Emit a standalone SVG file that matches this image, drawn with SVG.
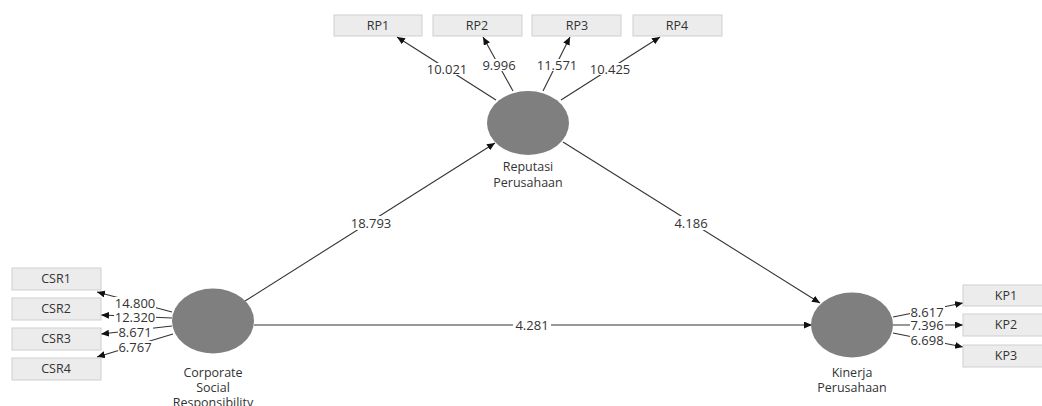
<svg xmlns="http://www.w3.org/2000/svg" width="1042" height="406" viewBox="0 0 1042 406">
<style>
.box{fill:#ececec;stroke:#cfcfcf;stroke-width:1}
.bt{font-family:"Open Sans","Noto Sans",sans-serif;font-size:12.5px;fill:#333;text-anchor:middle}
.lv{fill:#7f7f7f}
.lt{font-family:"Open Sans","Noto Sans",sans-serif;font-size:12.5px;fill:#333;text-anchor:middle}
.ln{stroke:#333;stroke-width:1.1;fill:none;marker-end:url(#ah)}
.bg{fill:#fff}
.lab{font-family:"Open Sans","Noto Sans",sans-serif;font-size:13px;fill:#333;text-anchor:middle;dominant-baseline:central}
</style>
<defs>
<marker id="ah" markerUnits="userSpaceOnUse" markerWidth="9" markerHeight="8" refX="8" refY="3.5" orient="auto">
<path d="M0,0 L8,3.5 L0,7 z" fill="#111"/>
</marker>
</defs>
<rect width="1042" height="406" fill="#fff"/>
<g id="connectors">
<line class="ln" x1="496" y1="100" x2="397" y2="37"/>
<line class="ln" x1="513" y1="91" x2="483" y2="37"/>
<line class="ln" x1="543" y1="91" x2="570" y2="37"/>
<line class="ln" x1="561" y1="100" x2="660" y2="37"/>
<line class="ln" x1="172" y1="312" x2="97" y2="292"/>
<line class="ln" x1="172" y1="318" x2="101" y2="315"/>
<line class="ln" x1="172" y1="326" x2="101" y2="334"/>
<line class="ln" x1="173" y1="334" x2="97" y2="357"/>
<line class="ln" x1="893" y1="317" x2="963" y2="303"/>
<line class="ln" x1="893" y1="325" x2="963" y2="325"/>
<line class="ln" x1="893" y1="333" x2="963" y2="347"/>
<line class="ln" x1="245" y1="301" x2="495" y2="143"/>
<line class="ln" x1="563" y1="142" x2="820" y2="303"/>
<line class="ln" x1="254" y1="325" x2="812" y2="325"/>
<rect class="bg" x="426" y="63" width="42" height="12"/>
<rect class="bg" x="482" y="59" width="35" height="12"/>
<rect class="bg" x="536" y="59" width="42" height="12"/>
<rect class="bg" x="589" y="63" width="42" height="12"/>
<rect class="bg" x="114" y="297" width="42" height="12"/>
<rect class="bg" x="114" y="311" width="42" height="12"/>
<rect class="bg" x="118" y="326" width="35" height="12"/>
<rect class="bg" x="118" y="341" width="35" height="12"/>
<rect class="bg" x="910" y="306" width="35" height="12"/>
<rect class="bg" x="910" y="319" width="35" height="12"/>
<rect class="bg" x="910" y="334" width="35" height="12"/>
<rect class="bg" x="348" y="216" width="46" height="14"/>
<rect class="bg" x="672" y="216" width="38" height="14"/>
<rect class="bg" x="513" y="318" width="38" height="14"/>
<text class="lab" x="447" y="69">10.021</text>
<text class="lab" x="499" y="65">9.996</text>
<text class="lab" x="557" y="65">11.571</text>
<text class="lab" x="610" y="69">10.425</text>
<text class="lab" x="135" y="303">14.800</text>
<text class="lab" x="135" y="317">12.320</text>
<text class="lab" x="135" y="332">8.671</text>
<text class="lab" x="135" y="347">6.767</text>
<text class="lab" x="927" y="312">8.617</text>
<text class="lab" x="927" y="325">7.396</text>
<text class="lab" x="927" y="340">6.698</text>
<text class="lab" x="371" y="223">18.793</text>
<text class="lab" x="691" y="223">4.186</text>
<text class="lab" x="532" y="325">4.281</text>
</g>
<g id="RP1"><rect class="box" x="334" y="15" width="88" height="21"/><text class="bt" x="378" y="30">RP1</text></g>
<g id="RP2"><rect class="box" x="433" y="15" width="89" height="21"/><text class="bt" x="477" y="30">RP2</text></g>
<g id="RP3"><rect class="box" x="532" y="15" width="89" height="21"/><text class="bt" x="577" y="30">RP3</text></g>
<g id="RP4"><rect class="box" x="633" y="15" width="89" height="21"/><text class="bt" x="677" y="30">RP4</text></g>
<g id="CSR1"><rect class="box" x="12" y="268" width="89" height="22"/><text class="bt" x="56" y="283">CSR1</text></g>
<g id="CSR2"><rect class="box" x="12" y="298" width="89" height="22"/><text class="bt" x="56" y="313">CSR2</text></g>
<g id="CSR3"><rect class="box" x="12" y="328" width="89" height="22"/><text class="bt" x="56" y="343">CSR3</text></g>
<g id="CSR4"><rect class="box" x="12" y="358" width="89" height="22"/><text class="bt" x="56" y="373">CSR4</text></g>
<g id="KP1"><rect class="box" x="963" y="285" width="80" height="21"/><text class="bt" x="1006" y="300">KP1</text></g>
<g id="KP2"><rect class="box" x="963" y="314" width="80" height="22"/><text class="bt" x="1006" y="329">KP2</text></g>
<g id="KP3"><rect class="box" x="963" y="345" width="80" height="22"/><text class="bt" x="1006" y="360">KP3</text></g>
<g id="Reputasi"><ellipse class="lv" cx="528" cy="123" rx="41" ry="32"/><text class="lt" x="528" y="171">Reputasi</text><text class="lt" x="528" y="187">Perusahaan</text></g>
<g id="CSR"><ellipse class="lv" cx="213" cy="321" rx="41" ry="32.5"/><text class="lt" x="213" y="377">Corporate</text><text class="lt" x="213" y="392">Social</text><text class="lt" x="213" y="407">Responsibility</text></g>
<g id="Kinerja"><ellipse class="lv" cx="852" cy="325" rx="41" ry="32.5"/><text class="lt" x="852" y="377">Kinerja</text><text class="lt" x="852" y="392">Perusahaan</text></g>
</svg>
